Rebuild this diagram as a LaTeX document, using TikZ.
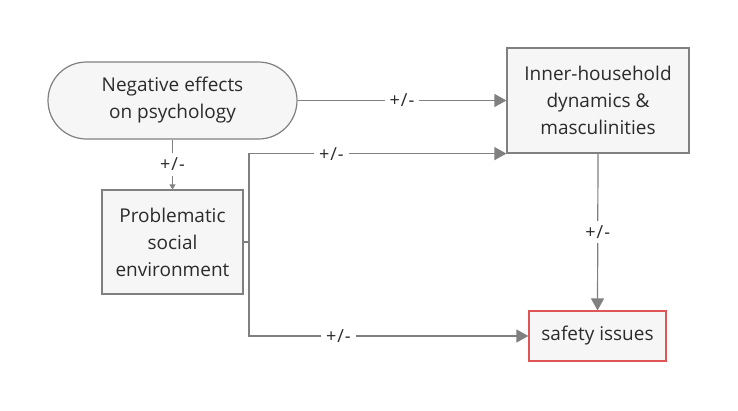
\documentclass[tikz,border=0pt]{standalone}
\usepackage{fontspec}
\setmainfont{Open Sans}
\usetikzlibrary{arrows.meta,shapes.misc}
\definecolor{linegray}{HTML}{808080}
\definecolor{boxfill}{HTML}{F6F6F6}
\definecolor{txt}{HTML}{2B2B2B}
\definecolor{redline}{HTML}{E05555}
\begin{document}
\begin{tikzpicture}[x=1pt,y=-1pt,
  every node/.style={font=\fontsize{19}{27}\selectfont, text=txt},
  box/.style={draw=linegray, line width=1.2pt, fill=boxfill, align=center, inner sep=0pt},
  conn/.style={draw=linegray, line width=1.2pt, -{Triangle[length=12pt,width=13pt]}},
  lbl/.style={fill=white, font=\fontsize{18}{20}\selectfont, inner sep=5pt}
]
\useasboundingbox (0,0) rectangle (738,410);
\node[box, rounded rectangle, minimum width=249pt, minimum height=77pt] (neg) at (172.5,100.5) {Negative effects\\on psychology};
\node[box, minimum width=141pt, minimum height=104pt] (prob) at (172.5,242) {Problematic\\social\\environment};
\node[box, minimum width=182pt, minimum height=105pt] (inner) at (598,100.5) {Inner-household\\dynamics \&\\masculinities};
\node[box, draw=redline, minimum width=137pt, minimum height=50pt] (safe) at (597.5,336) {safety issues};
\coordinate (j) at (249,242);
\draw[conn] (neg.east) -- node[lbl] {+\kern1pt/\kern1pt-} (inner.west);
\draw[draw=linegray, line width=1.2pt, -{Triangle[length=5pt,width=6pt]}] (neg.south) -- node[lbl, pos=0.5] {+\kern1pt/\kern1pt-} (prob.north);
\draw[conn] (prob.east) -- (j) |- node[lbl, pos=0.66] {+\kern1pt/\kern1pt-} (inner.south west);
\draw[conn] (j) |- node[lbl, pos=0.66] {+\kern1pt/\kern1pt-} (safe.west);
\draw[conn] (inner.south) -- node[lbl] {+\kern1pt/\kern1pt-} (safe.north);
\end{tikzpicture}
\end{document}
